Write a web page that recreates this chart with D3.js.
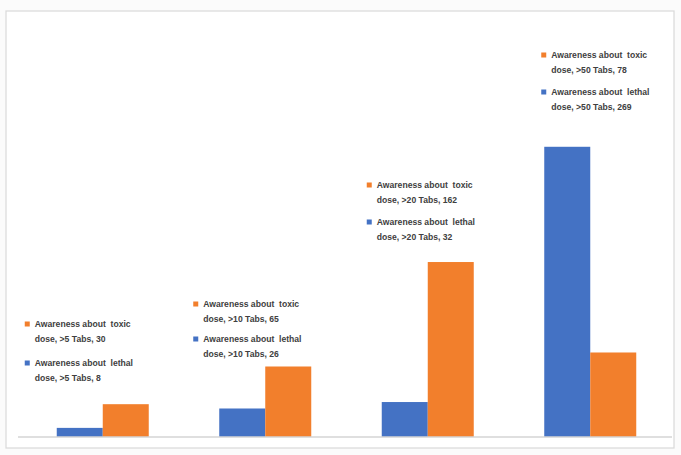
<!DOCTYPE html>
<html><head><meta charset="utf-8">
<script src="https://cdn.jsdelivr.net/npm/d3@7"></script>
<style>
html,body{margin:0;padding:0;background:#fbfbfb;}
svg{display:block;}
text{white-space:pre;}
</style></head>
<body>
<svg id="chart" width="681" height="455"></svg>
<script>
const categories = [">5 Tabs", ">10 Tabs", ">20 Tabs", ">50 Tabs"];
const series = ["lethal", "toxic"];
const lethalValues = [8, 26, 32, 269];
const toxicValues = [30, 65, 162, 78];
const seriesNames = {lethal: "Awareness about  lethal", toxic: "Awareness about  toxic"};
const colors = {lethal: "#4472C4", toxic: "#F27F2C"};

// layout of manually placed data labels (pixel y of first line), not data
const labelLayout = [
  {dx: -75, toxicY: 324, lethalY: 363},
  {dx: -69, toxicY: 304, lethalY: 339},
  {dx: -58, toxicY: 185, lethalY: 222},
  {dx: -46, toxicY: 55, lethalY: 92}
];

const svg = d3.select("#chart");
// frame
svg.append("rect").attr("x", 6).attr("y", 11).attr("width", 668).attr("height", 437)
  .attr("fill", "#fff").attr("stroke", "#d9d9d9").attr("stroke-width", 1.2);

const baseY = 436.5;
const y = d3.scaleLinear().domain([0, 300]).range([baseY, baseY - 300 * 1.077]);
const x0 = d3.scaleBand().domain(categories).range([21.5, 671.5]).padding(0);
const bw = x0.bandwidth();
const barW = 46;
const x1 = d3.scaleBand().domain(series).range([bw / 2 - barW, bw / 2 + barW]).padding(0);

const data = categories.map((c, i) => ({cat: c, lethal: lethalValues[i], toxic: toxicValues[i]}));

const g = svg.append("g");
const groups = g.selectAll("g.grp").data(data).join("g")
  .attr("transform", d => `translate(${x0(d.cat)},0)`);
groups.selectAll("rect").data(d => series.map(s => ({s, v: d[s]}))).join("rect")
  .attr("x", d => x1(d.s)).attr("width", x1.bandwidth())
  .attr("y", d => y(d.v)).attr("height", d => y(0) - y(d.v))
  .attr("fill", d => colors[d.s]);

// baseline axis
svg.append("line").attr("x1", 18).attr("x2", 672).attr("y1", baseY + 0.5).attr("y2", baseY + 0.5)
  .attr("stroke", "#bfbfbf").attr("stroke-width", 1);

// data labels
const lab = svg.append("g").attr("font-family", "Liberation Sans, Arial, sans-serif")
  .attr("font-size", 8.6).attr("font-weight", "bold").attr("fill", "#404040");
data.forEach((d, i) => {
  const L = labelLayout[i];
  const cx = x0(d.cat) + bw / 2 + L.dx;
  ["toxic", "lethal"].forEach(s => {
    const yy = s === "toxic" ? L.toxicY : L.lethalY;
    lab.append("rect").attr("x", cx - 3).attr("y", yy - 2.5).attr("width", 5).attr("height", 5)
      .attr("fill", colors[s]);
    const t = lab.append("text").attr("x", cx + 7).attr("y", yy + 3);
    t.append("tspan").attr("x", cx + 7).text(seriesNames[s]);
    t.append("tspan").attr("x", cx + 7).attr("dy", 15).text(`dose, ${d.cat}, ${d[s]}`);
  });
});
</script>
</body></html>
